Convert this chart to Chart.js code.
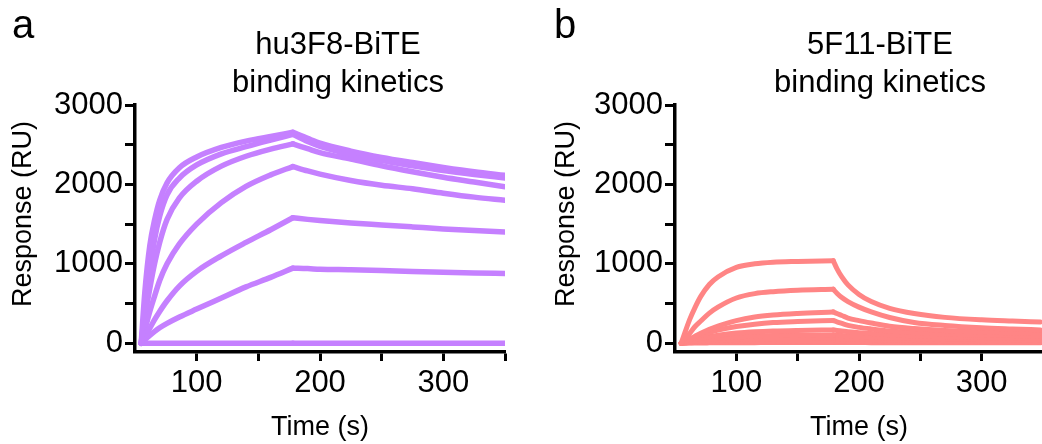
<!DOCTYPE html>
<html>
<head>
<meta charset="utf-8">
<script src="https://cdn.jsdelivr.net/npm/chart.js@4"></script>
<style>
  html, body { margin: 0; padding: 0; background: #fff; overflow: hidden; }
  body { width: 1042px; height: 444px; position: relative; font-family: "Liberation Sans", Arial, sans-serif; color: #000; }
  .panel { position: absolute; top: 0; }
  #panelA { left: 0; }
  #panelB { left: 520px; }
  .letter { position: absolute; top: 4px; font-size: 40px; line-height: 40px; }
  .title { position: absolute; top: 25px; width: 320px; text-align: center; font-size: 31px; line-height: 38px; }
  .ytitle { position: absolute; top: 198px; width: 260px; text-align: center; font-size: 27px; line-height: 32px; transform: rotate(-90deg); }
</style>
</head>
<body>
<canvas id="panelA" class="panel" width="520" height="444"></canvas>
<canvas id="panelB" class="panel" width="530" height="444"></canvas>
<div class="letter" style="left:12px">a</div>
<div class="letter" style="left:554px">b</div>
<div class="title" style="left:178px">hu3F8-BiTE<br>binding kinetics</div>
<div class="title" style="left:720px">5F11-BiTE<br>binding kinetics</div>
<div class="ytitle" style="left:-108px">Response (RU)</div>
<div class="ytitle" style="left:435px">Response (RU)</div>
<script>
// axis ticks
const yTicks = [0, 500, 1000, 1500, 2000, 2500, 3000];
const yTickLabels = ['0', '1000', '2000', '3000'];
const xTicks = [100, 150, 200, 250, 300, 350];
const xTickLabels = ['100', '200', '300'];

// panel a: hu3F8-BiTE, association then dissociation (RU)
const huAssocTime = [55, 58, 62, 66, 70, 76, 86, 100, 120, 140, 160, 178];
const huAssoc = [
  [0, 650, 1230, 1560, 1800, 2020, 2210, 2345, 2465, 2545, 2605, 2656],
  [0, 420, 900, 1320, 1600, 1870, 2080, 2245, 2385, 2475, 2558, 2630],
  [0, 330, 690, 1010, 1270, 1560, 1830, 2040, 2230, 2355, 2445, 2510],
  [0, 170, 400, 600, 790, 1000, 1250, 1500, 1770, 1975, 2120, 2225],
  [0, 80, 190, 300, 400, 535, 720, 905, 1100, 1270, 1430, 1580],
  [0, 45, 100, 150, 195, 250, 330, 430, 570, 710, 830, 946],
  [0, 0, 0, 0, 0, 0, 0, 0, 0, 0, 0, 0]
];
const huDissocTime = [178, 190, 200, 225, 250, 275, 300, 325, 350];
const huDissoc = [
  [2656, 2580, 2520, 2420, 2340, 2275, 2215, 2160, 2115],
  [2630, 2540, 2480, 2380, 2300, 2235, 2175, 2125, 2080],
  [2510, 2450, 2400, 2320, 2235, 2160, 2090, 2030, 1970],
  [2225, 2170, 2130, 2050, 1990, 1945, 1890, 1840, 1800],
  [1580, 1560, 1546, 1515, 1490, 1465, 1440, 1420, 1400],
  [946, 940, 932, 925, 915, 905, 895, 885, 878],
  [0, 0, 0, 0, 0, 0, 0, 0, 0]
];

// panel b: 5F11-BiTE
const f11AssocTime = [55, 58, 62, 66, 71, 78, 85, 100, 115, 130, 150, 179];
const f11Assoc = [
  [0, 130, 300, 440, 590, 740, 835, 955, 1000, 1020, 1030, 1040],
  [0, 55, 125, 205, 280, 380, 455, 570, 625, 650, 668, 680],
  [0, 25, 55, 85, 125, 175, 215, 285, 330, 355, 375, 395],
  [0, 20, 45, 68, 98, 135, 165, 210, 240, 260, 273, 286],
  [0, 12, 28, 42, 60, 82, 100, 128, 145, 155, 162, 168],
  [0, 8, 18, 27, 37, 50, 62, 80, 92, 98, 101, 105],
  [0, 5, 10, 15, 22, 30, 37, 47, 54, 58, 60, 63],
  [0, 3, 6, 9, 12, 16, 20, 25, 28, 30, 32, 34],
  [0, 1, 2, 3, 4, 5, 6, 7, 8, 9, 9, 10]
];
const f11DissocTime = [179, 182, 186, 191, 200, 210, 225, 245, 270, 300, 325, 348];
const f11Dissoc = [
  [1040, 940, 835, 735, 615, 525, 440, 375, 326, 295, 280, 268],
  [680, 630, 575, 525, 455, 395, 325, 262, 224, 195, 180, 168],
  [395, 375, 350, 318, 285, 255, 215, 185, 160, 142, 132, 125],
  [286, 270, 250, 225, 200, 180, 155, 135, 118, 105, 97, 92],
  [168, 162, 155, 146, 134, 122, 107, 93, 81, 72, 67, 63],
  [105, 101, 97, 91, 84, 77, 68, 60, 53, 48, 45, 42],
  [63, 61, 58, 55, 51, 47, 41, 36, 31, 26, 23, 21],
  [34, 33, 32, 30, 28, 25, 22, 19, 16, 14, 12, 11],
  [10, 10, 10, 9, 9, 8, 8, 7, 6, 6, 5, 5]
];

function curveSets(times, series, color, width) {
  return series.map(vals => ({
    data: times.map((t, i) => ({ x: t, y: vals[i] })),
    borderColor: color,
    borderWidth: width,
    borderJoinStyle: 'round',
    borderCapStyle: 'round',
    pointRadius: 0,
    cubicInterpolationMode: 'monotone',
    fill: false
  }));
}

function drawPanel(id, sets, pad) {
  const tickFont = { family: '"Liberation Sans", Arial, sans-serif', size: 31 };
  const titleFont = { family: '"Liberation Sans", Arial, sans-serif', size: 27 };
  new Chart(document.getElementById(id), {
    type: 'line',
    data: { datasets: sets },
    options: {
      responsive: false,
      animation: false,
      layout: { padding: pad },
      plugins: { legend: { display: false }, tooltip: { enabled: false } },
      scales: {
        x: {
          type: 'linear',
          min: 50,
          max: 350,
          afterFit(scale) { scale.height = 92; },
          afterBuildTicks(scale) { scale.ticks = xTicks.map(v => ({ value: v })); },
          ticks: {
            color: '#000',
            font: tickFont,
            padding: 4,
            maxRotation: 0,
            callback: v => xTickLabels.includes(String(v)) ? String(v) : ''
          },
          grid: { drawOnChartArea: false, tickLength: 9, tickWidth: 3, tickColor: '#000' },
          border: { color: '#000', width: 3.5 },
          title: { display: true, text: 'Time (s)', color: '#000', font: titleFont, padding: { top: 0, bottom: 0 } }
        },
        y: {
          min: -110,
          max: 3000,
          afterFit(scale) { scale.width = 135; },
          afterBuildTicks(scale) { scale.ticks = yTicks.map(v => ({ value: v })); },
          ticks: {
            color: '#000',
            font: tickFont,
            padding: 2,
            callback: v => yTickLabels.includes(String(v)) ? String(v) : ''
          },
          grid: { drawOnChartArea: false, tickLength: 10, tickWidth: 3, tickColor: '#000' },
          border: { color: '#000', width: 3.5 }
        }
      }
    }
  });
}

const purple = 'rgb(197, 128, 255)';
const salmon = 'rgb(255, 133, 133)';

drawPanel('panelA',
  curveSets(huAssocTime, huAssoc, purple, 5.5).concat(curveSets(huDissocTime, huDissoc, purple, 5.5)),
  { left: 0, right: 15, top: 105, bottom: 0 });

drawPanel('panelB',
  curveSets(f11AssocTime, f11Assoc, salmon, 5).concat(curveSets(f11DissocTime, f11Dissoc, salmon, 5)),
  { left: 20, right: 7, top: 105, bottom: 0 });
</script>
</body>
</html>
